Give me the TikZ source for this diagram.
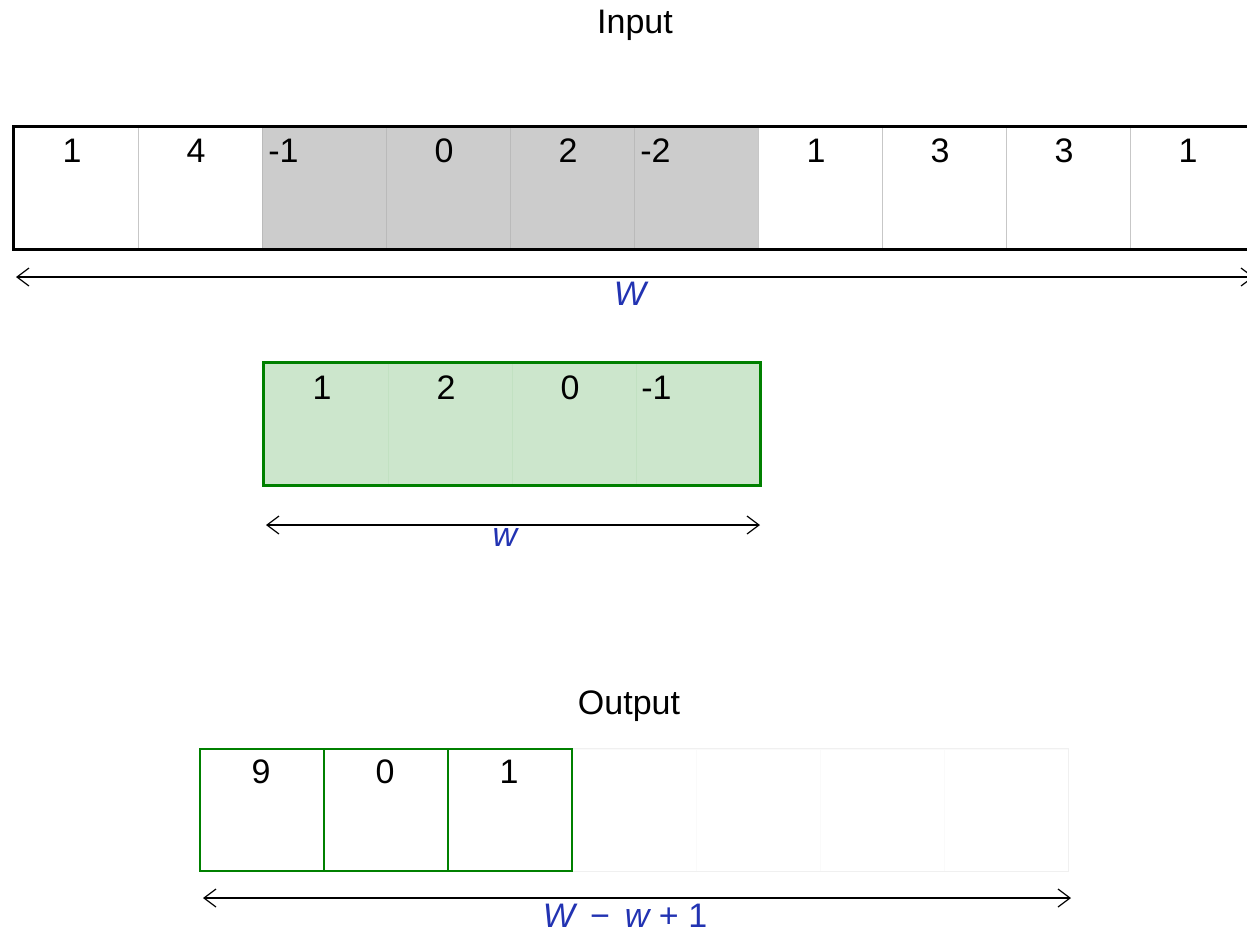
\documentclass[tikz,border=0pt]{standalone}
\usepackage{fontspec}
\setmainfont{Liberation Sans}
\usepackage{tikz}
\usetikzlibrary{arrows.meta}

\definecolor{kgreen}{RGB}{0,128,0}
\definecolor{dimblue}{RGB}{34,51,178}

\begin{document}
\begin{tikzpicture}[x=0.5pt,y=-0.5pt,
  cell/.style={draw=black!22,line width=0.5pt,minimum width=62pt,minimum height=61pt,inner sep=0pt},
  num/.style={inner sep=0pt,anchor=base,font=\fontsize{17}{20}\selectfont},
  dim/.style={line width=0.6pt,{Straight Barb[length=6pt,width=9pt]}-{Straight Barb[length=6pt,width=9pt]}},
  dimlabel/.style={inner sep=0pt,anchor=base,text=dimblue,font=\fontsize{17}{20}\selectfont\itshape}]
\useasboundingbox (0,0) rectangle (1247,934);

% input row
\node[num] (title_in) at (635,33) {Input};
\node[cell] (in0) at (76,188) {};
\node[cell] (in1) at (200,188) {};
\node[cell,fill=black!20,draw=black!27] (in2) at (324,188) {};
\node[cell,fill=black!20,draw=black!27] (in3) at (448,188) {};
\node[cell,fill=black!20,draw=black!27] (in4) at (572,188) {};
\node[cell,fill=black!20,draw=black!27] (in5) at (696,188) {};
\node[cell] (in6) at (820,188) {};
\node[cell] (in7) at (944,188) {};
\node[cell] (in8) at (1068,188) {};
\node[cell] (in9) at (1192,188) {};
\draw[line width=1.4pt] (in0.north west) rectangle (in9.south east);
\node[num] (v0) at (72,162) {1};
\node[num] (v1) at (196,162) {4};
\node[num,anchor=base west] (v2) at (268,162) {-1};
\node[num] (v3) at (444,162) {0};
\node[num] (v4) at (568,162) {2};
\node[num,anchor=base west] (v5) at (640,162) {-2};
\node[num] (v6) at (816,162) {1};
\node[num] (v7) at (940,162) {3};
\node[num] (v8) at (1064,162) {3};
\node[num] (v9) at (1188,162) {1};
\coordinate (bigl) at (16,277);
\coordinate (bigr) at (1254,277);
\draw[dim] (bigl) -- (bigr);
\node[dimlabel] (bigw) at (630,305) {W};

% kernel row
\node[cell,fill=kgreen!20,draw=kgreen!24] (k0) at (326,424) {};
\node[cell,fill=kgreen!20,draw=kgreen!24] (k1) at (450,424) {};
\node[cell,fill=kgreen!20,draw=kgreen!24] (k2) at (574,424) {};
\node[cell,fill=kgreen!20,draw=kgreen!24] (k3) at (698,424) {};
\draw[kgreen,line width=1.3pt] (k0.north west) rectangle (k3.south east);
\node[num] (kv0) at (322,399) {1};
\node[num] (kv1) at (446,399) {2};
\node[num] (kv2) at (570,399) {0};
\node[num,anchor=base west] (kv3) at (641,399) {-1};
\coordinate (smalll) at (266,525);
\coordinate (smallr) at (760,525);
\draw[dim] (smalll) -- (smallr);
\node[dimlabel] (smallw) at (505,546) {w};

% output row
\node[num] (title_out) at (629,714) {Output};
\node[cell,draw=black!2] (o3) at (634,810) {};
\node[cell,draw=black!2] (o4) at (758,810) {};
\node[cell,draw=black!2] (o5) at (882,810) {};
\node[cell,draw=black!2] (o6) at (1006,810) {};
\draw[black!6,line width=0.5pt] (o3.north west) rectangle (o6.south east);
\node[cell,draw=kgreen,line width=1pt] (o0) at (262,810) {};
\node[cell,draw=kgreen,line width=1pt] (o1) at (386,810) {};
\node[cell,draw=kgreen,line width=1pt] (o2) at (510,810) {};
\node[num] (ov0) at (261,783) {9};
\node[num] (ov1) at (385,783) {0};
\node[num] (ov2) at (509,783) {1};
\coordinate (outl) at (203,898);
\coordinate (outr) at (1071,898);
\draw[dim] (outl) -- (outr);
\node[dimlabel] (outw) at (625,927) {W \upshape\,−\, \itshape w \upshape + 1};
\end{tikzpicture}
\end{document}
